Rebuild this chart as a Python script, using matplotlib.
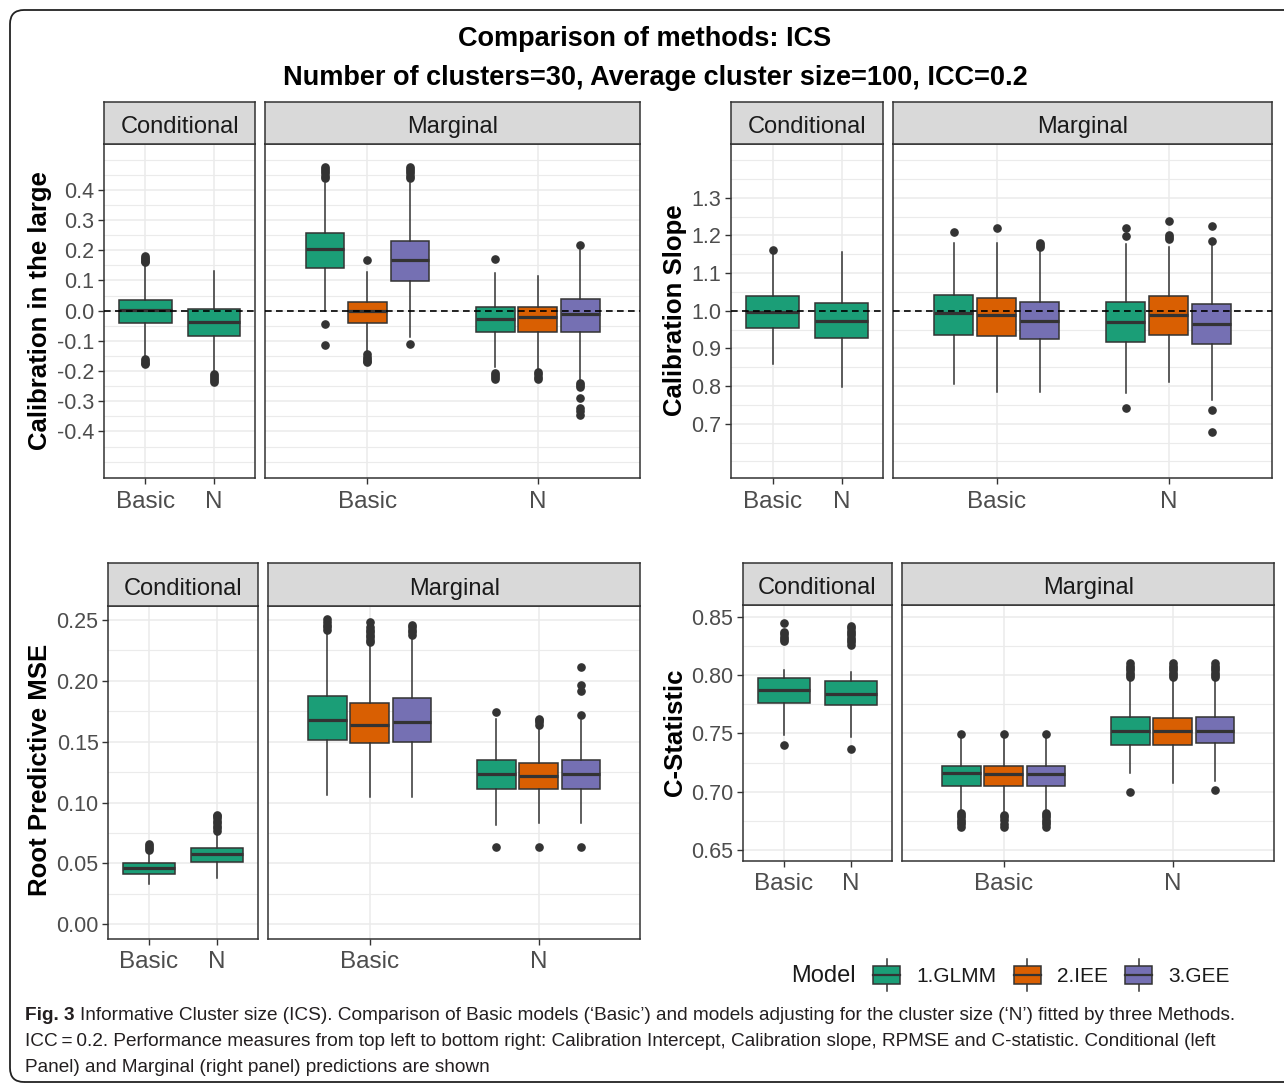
import matplotlib
matplotlib.use('Agg')
import matplotlib.pyplot as plt
from matplotlib.patches import FancyBboxPatch, Rectangle, Patch
from matplotlib.lines import Line2D
from matplotlib.legend_handler import HandlerBase
from matplotlib.transforms import IdentityTransform

plt.rcParams['font.family'] = ['Liberation Sans', 'DejaVu Sans']
plt.rcParams['axes.unicode_minus'] = False

W, H = 1284, 1086

models = ['1.GLMM', '2.IEE', '3.GEE']
model_colors = ['#1B9E77', '#D95F02', '#7570B3']
groups = ['Basic', 'N']

# box stats: (whisker low, q1, median, q3, whisker high)
# --- Calibration in the large
cil_cond_box = [(-0.152, -0.040, 0.003, 0.034, 0.157),
                (-0.202, -0.084, -0.036, 0.005, 0.132)]
cil_cond_out = [[0.160, 0.165, 0.170, 0.175, 0.180, -0.160, -0.166, -0.172, -0.178],
                [-0.210, -0.216, -0.222, -0.229, -0.236]]
cil_marg_box = {
    'Basic': [(-0.001, 0.142, 0.204, 0.256, 0.424),
              (-0.136, -0.040, -0.001, 0.029, 0.129),
              (-0.086, 0.098, 0.169, 0.231, 0.424)],
    'N': [(-0.185, -0.070, -0.028, 0.013, 0.124),
          (-0.196, -0.070, -0.022, 0.013, 0.115),
          (-0.229, -0.070, -0.012, 0.039, 0.201)],
}
cil_marg_out = {
    'Basic': [[0.440, 0.447, 0.455, 0.462, 0.470, 0.477, -0.045, -0.115],
              [0.167, -0.145, -0.152, -0.160, -0.165, -0.170],
              [0.440, 0.447, 0.455, 0.462, 0.470, 0.477, -0.109]],
    'N': [[0.172, -0.205, -0.212, -0.219, -0.226],
          [-0.203, -0.210, -0.218, -0.225],
          [0.217, -0.240, -0.246, -0.252, -0.290, -0.323, -0.333, -0.345]],
}

# --- Calibration slope
cs_cond_box = [(0.858, 0.955, 0.997, 1.039, 1.150),
               (0.797, 0.927, 0.974, 1.020, 1.155)]
cs_cond_out = [[1.161], []]
cs_marg_box = {
    'Basic': [(0.805, 0.936, 0.993, 1.043, 1.180),
              (0.783, 0.932, 0.990, 1.035, 1.180),
              (0.783, 0.924, 0.974, 1.023, 1.164)],
    'N': [(0.781, 0.916, 0.970, 1.023, 1.177),
          (0.812, 0.936, 0.990, 1.038, 1.170),
          (0.763, 0.912, 0.966, 1.019, 1.179)],
}
cs_marg_out = {
    'Basic': [[1.210], [1.219], [1.170, 1.175, 1.179]],
    'N': [[1.198, 1.221, 0.742],
          [1.190, 1.195, 1.200, 1.238],
          [1.185, 1.226, 0.737, 0.679]],
}

# --- Root predictive MSE
rp_cond_box = [(0.033, 0.0416, 0.046, 0.0506, 0.0588),
               (0.0378, 0.0514, 0.0578, 0.063, 0.076)]
rp_cond_out = [[0.061, 0.063, 0.064, 0.066],
               [0.077, 0.079, 0.081, 0.083, 0.085, 0.087, 0.089, 0.090]]
rp_marg_box = {
    'Basic': [(0.1062, 0.1511, 0.1675, 0.1878, 0.2418),
              (0.1049, 0.1486, 0.1640, 0.1818, 0.2309),
              (0.1049, 0.1500, 0.1666, 0.1857, 0.2346)],
    'N': [(0.0816, 0.1114, 0.1235, 0.1351, 0.1685),
          (0.0830, 0.1114, 0.1221, 0.1328, 0.1633),
          (0.0830, 0.1114, 0.1238, 0.1351, 0.1680)],
}
rp_marg_out = {
    'Basic': [[0.242, 0.244, 0.246, 0.248, 0.2506],
              [0.232, 0.234, 0.236, 0.238, 0.240, 0.242, 0.244, 0.2486],
              [0.238, 0.240, 0.242, 0.244, 0.246]],
    'N': [[0.1742, 0.0638],
          [0.164, 0.166, 0.168, 0.169, 0.0638],
          [0.172, 0.192, 0.1967, 0.2111, 0.0638]],
}

# --- C-statistic
cst_cond_box = [(0.7486, 0.7758, 0.7869, 0.7975, 0.8043),
                (0.7471, 0.7743, 0.7841, 0.7950, 0.8029)]
cst_cond_out = [[0.8443, 0.829, 0.831, 0.833, 0.835, 0.837, 0.740],
                [0.826, 0.828, 0.830, 0.832, 0.834, 0.836, 0.838, 0.840, 0.842, 0.737]]
cst_marg_box = {
    'Basic': [(0.6823, 0.7052, 0.7157, 0.7220, 0.7458),
              (0.6823, 0.7052, 0.7151, 0.7220, 0.7458),
              (0.6823, 0.7052, 0.7153, 0.7220, 0.7458)],
    'N': [(0.7157, 0.7400, 0.7523, 0.7643, 0.7971),
          (0.7077, 0.7397, 0.7517, 0.7631, 0.7970),
          (0.7094, 0.7414, 0.7523, 0.7643, 0.7970)],
}
cst_marg_out = {
    'Basic': [[0.7495, 0.670, 0.672, 0.674, 0.676, 0.678, 0.680, 0.682],
              [0.7495, 0.670, 0.672, 0.676, 0.678, 0.680],
              [0.7495, 0.670, 0.672, 0.674, 0.676, 0.678, 0.680, 0.682]],
    'N': [[0.798, 0.800, 0.802, 0.804, 0.806, 0.808, 0.810, 0.700],
          [0.798, 0.800, 0.802, 0.804, 0.806, 0.808, 0.810],
          [0.798, 0.800, 0.802, 0.804, 0.806, 0.808, 0.810, 0.7014]],
}

EDGE = '#333333'
GRID = '#EBEBEB'
TICK_TXT = '#4D4D4D'

fig = plt.figure(figsize=(W / 100, H / 100), dpi=100)


def px_axes(left, top, right, bottom):
    return fig.add_axes([left / W, 1 - bottom / H, (right - left) / W, (bottom - top) / H])


def draw_boxes(ax, stats, outs, positions, width, colors):
    data = [dict(whislo=s[0], q1=s[1], med=s[2], q3=s[3], whishi=s[4], fliers=o)
            for s, o in zip(stats, outs)]
    parts = ax.bxp(data, positions=positions, widths=width, patch_artist=True,
                   showcaps=False, manage_ticks=False, zorder=3,
                   boxprops=dict(edgecolor=EDGE, linewidth=1.1),
                   whiskerprops=dict(color=EDGE, linewidth=1.1),
                   medianprops=dict(color=EDGE, linewidth=2.3, solid_capstyle='butt'),
                   flierprops=dict(marker='o', markerfacecolor=EDGE,
                                   markeredgecolor=EDGE, markersize=5.2))
    for box, c in zip(parts['boxes'], colors):
        box.set_facecolor(c)


def style_axes(ax, ylim, majors, minors, fmt, show_y):
    ax.set_xlim(0.4, 2.6)
    ax.set_ylim(*ylim)
    ax.set_xticks([1, 2])
    ax.set_xticklabels(groups, fontsize=17.5, color=TICK_TXT)
    ax.set_yticks(majors)
    ax.set_yticks(minors, minor=True)
    ax.set_axisbelow(True)
    ax.grid(which='major', color=GRID, linewidth=1.1)
    ax.grid(which='minor', axis='y', color=GRID, linewidth=0.8)
    ax.tick_params(axis='x', length=4, width=1, color=EDGE, pad=5)
    ax.tick_params(which='minor', length=0)
    if show_y:
        ax.set_yticklabels([fmt.format(v) for v in majors], fontsize=15.5, color=TICK_TXT)
        ax.tick_params(axis='y', length=4, width=1, color=EDGE, pad=3)
    else:
        ax.tick_params(axis='y', length=0, labelleft=False)
    for sp in ax.spines.values():
        sp.set_color(EDGE)
        sp.set_linewidth(1.1)


def strip(left, top, right, label):
    s = px_axes(left, top - 42.5, right, top)
    s.set_facecolor('#D9D9D9')
    s.set_xticks([])
    s.set_yticks([])
    for sp in s.spines.values():
        sp.set_color(EDGE)
        sp.set_linewidth(1.1)
    s.text(0.5, 0.4, label, ha='center', va='center', fontsize=17, color='#1A1A1A',
           transform=s.transAxes)


def panel(cond_rect, marg_rect, cond_box, cond_out, marg_box, marg_out,
          ylim, majors, minors, fmt, ylabel, label_xy, ref=None):
    offsets = [-0.25, 0.0, 0.25]
    ac = px_axes(*cond_rect)
    draw_boxes(ac, cond_box, cond_out, [1, 2], 0.77, [model_colors[0]] * 2)
    style_axes(ac, ylim, majors, minors, fmt, True)
    strip(cond_rect[0], cond_rect[1], cond_rect[2], 'Conditional')

    am = px_axes(*marg_rect)
    for gi, g in enumerate(groups):
        pos = [gi + 1 + o for o in offsets]
        draw_boxes(am, marg_box[g], marg_out[g], pos, 0.227, model_colors)
    style_axes(am, ylim, majors, minors, fmt, False)
    strip(marg_rect[0], marg_rect[1], marg_rect[2], 'Marginal')

    if ref is not None:
        for a in (ac, am):
            a.axhline(ref, color='black', linestyle=(0, (4, 2.6)), linewidth=1.2, zorder=6)

    fig.text(label_xy[0] / W, 1 - label_xy[1] / H, ylabel, rotation=90, ha='center',
             va='center', fontsize=18.5, fontweight='bold', color='black')


def steps(lo, hi, step):
    n = int(round((hi - lo) / step))
    return [round(lo + i * step, 4) for i in range(n + 1)]


# top left: calibration in the large
maj = steps(-0.4, 0.4, 0.1)
panel((104.3, 144.3, 255, 478.3), (265.3, 144.3, 640, 478.3),
      cil_cond_box, cil_cond_out, cil_marg_box, cil_marg_out,
      (-0.555, 0.551), maj, [v for v in steps(-0.5, 0.5, 0.05) if v not in maj],
      '{:.1f}', 'Calibration in the large', (40, 311), ref=0.0)

# top right: calibration slope
maj = steps(0.7, 1.3, 0.1)
panel((731, 144.3, 883.3, 478.3), (893.3, 144.3, 1272, 478.3),
      cs_cond_box, cs_cond_out, cs_marg_box, cs_marg_out,
      (0.555, 1.442), maj, [v for v in steps(0.6, 1.4, 0.05) if v not in maj],
      '{:.1f}', 'Calibration Slope', (675, 310), ref=1.0)

# bottom left: RPMSE
maj = steps(0.0, 0.25, 0.05)
panel((108.3, 605.7, 257.7, 939), (268.3, 605.7, 640, 939),
      rp_cond_box, rp_cond_out, rp_marg_box, rp_marg_out,
      (-0.0121, 0.2618), maj, steps(0.025, 0.225, 0.05),
      '{:.2f}', 'Root Predictive MSE', (40, 770))

# bottom right: C-statistic
maj = steps(0.65, 0.85, 0.05)
panel((743, 605, 891.7, 861), (902.3, 605, 1274, 861),
      cst_cond_box, cst_cond_out, cst_marg_box, cst_marg_out,
      (0.6406, 0.860), maj, steps(0.675, 0.825, 0.05),
      '{:.2f}', 'C-Statistic', (675, 732))

# titles
fig.text(645 / W, 1 - 39 / H, 'Comparison of methods: ICS', ha='center', va='center',
         fontsize=19.5, fontweight='bold', color='black')
fig.text(655 / W, 1 - 78 / H, 'Number of clusters=30, Average cluster size=100, ICC=0.2',
         ha='center', va='center', fontsize=19.5, fontweight='bold', color='black')


class BoxKey(HandlerBase):
    def create_artists(self, legend, orig_handle, xdescent, ydescent, width, height,
                       fontsize, trans):
        x0, y0 = -xdescent, -ydescent
        whisker = Line2D([x0 + width / 2] * 2, [y0 - 0.4 * height, y0 + 1.4 * height],
                         color=EDGE, linewidth=1.1, transform=trans)
        box = Rectangle((x0, y0), width, height, facecolor=orig_handle.get_facecolor(),
                        edgecolor=EDGE, linewidth=1.1, transform=trans)
        med = Line2D([x0, x0 + width], [y0 + height / 2] * 2, color=EDGE,
                     linewidth=1.6, transform=trans)
        return [whisker, box, med]


handles = [Patch(facecolor=c) for c in model_colors]
fig.legend(handles, models, handler_map={Patch: BoxKey()}, ncol=3, frameon=False,
           loc='center left', bbox_to_anchor=(873 / W, 1 - 976 / H), fontsize=15,
           handlelength=1.3, handleheight=0.95, handletextpad=0.8, columnspacing=0.8,
           borderpad=0, borderaxespad=0, labelcolor='#1A1A1A')
fig.text(856 / W, 1 - 976 / H, 'Model', ha='right', va='center', fontsize=17,
         color='#1A1A1A')

# outer rounded frame
frame = FancyBboxPatch((10, 4), 1300, 1072, boxstyle='round,pad=0,rounding_size=14',
                       transform=IdentityTransform(), facecolor='none', edgecolor='#222222',
                       linewidth=1.3)
fig.add_artist(frame)

# caption
cap_font = ['Liberation Sans', 'DejaVu Sans']
cap_size = 13.7
cap_color = '#231F20'
renderer = fig.canvas.get_renderer()
bold = fig.text(25 / W, 1 - 1015 / H, 'Fig. 3', ha='left', va='center', fontsize=cap_size,
                fontweight='bold', family=cap_font, color=cap_color)
bx = bold.get_window_extent(renderer).x1
fig.text(bx / W + 5 / W, 1 - 1015 / H,
         'Informative Cluster size (ICS). Comparison of Basic models (\u2018Basic\u2019) and '
         'models adjusting for the cluster size (\u2018N\u2019) fitted by three Methods.',
         ha='left', va='center', fontsize=cap_size, family=cap_font, color=cap_color)
fig.text(25 / W, 1 - 1042 / H,
         'ICC\u2009=\u20090.2. Performance measures from top left to bottom right: Calibration '
         'Intercept, Calibration slope, RPMSE and C-statistic. Conditional (left',
         ha='left', va='center', fontsize=cap_size, family=cap_font, color=cap_color)
fig.text(25 / W, 1 - 1068 / H,
         'Panel) and Marginal (right panel) predictions are shown',
         ha='left', va='center', fontsize=cap_size, family=cap_font, color=cap_color)

fig.savefig('out.png', dpi=100)
